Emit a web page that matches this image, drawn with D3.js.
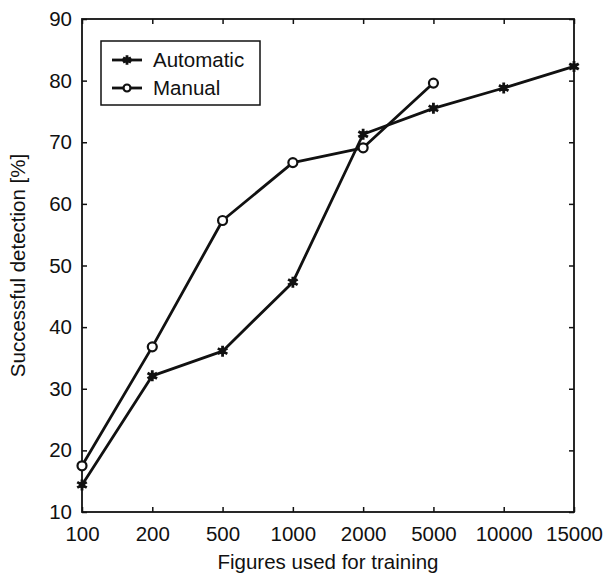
<!DOCTYPE html>
<html>
<head>
<meta charset="utf-8">
<script src="https://cdn.jsdelivr.net/npm/d3@7"></script>
<style>
  html, body { margin: 0; padding: 0; background: #fff; }
  svg { display: block; font-family: "Liberation Sans", Arial, sans-serif; }
</style>
</head>
<body>
<svg id="chart" width="603" height="578"></svg>
<script>
// Training-set sizes (categorical, equally spaced on the x axis)
const categories = ["100", "200", "500", "1000", "2000", "5000", "10000", "15000"];
// Detection rates in percent
const automaticValues = [14.4, 32.1, 36.1, 47.3, 71.3, 75.5, 78.8, 82.3];
const manualValues = [17.5, 36.8, 57.3, 66.7, 69.1, 79.6];
const yTicks = [10, 20, 30, 40, 50, 60, 70, 80, 90];
const seriesNames = ["Automatic", "Manual"];

const svg = d3.select("#chart");
const margin = { left: 82, right: 29, top: 19, bottom: 66 };
const W = 603, H = 578;
const x0 = margin.left, x1 = W - margin.right, y0 = H - margin.bottom, y1 = margin.top;

const x = d3.scalePoint().domain(categories).range([x0, x1]);
const y = d3.scaleLinear().domain([10, 90]).range([y0, y1]);

const fontSize = 20.5;
const ink = "#111";

// Axes with inward ticks
const gLeft = svg.append("g").attr("transform", `translate(${x0},0)`)
  .call(d3.axisLeft(y).tickValues(yTicks).tickSizeInner(-5).tickSizeOuter(0).tickPadding(10));
const gBottom = svg.append("g").attr("transform", `translate(0,${y0})`)
  .call(d3.axisBottom(x).tickSizeInner(-5).tickSizeOuter(0).tickPadding(14));
const gTop = svg.append("g").attr("transform", `translate(0,${y1})`)
  .call(d3.axisTop(x).tickSizeInner(-5).tickSizeOuter(0).tickFormat(""));
const gRight = svg.append("g").attr("transform", `translate(${x1},0)`)
  .call(d3.axisRight(y).tickValues(yTicks).tickSizeInner(-5).tickSizeOuter(0).tickFormat(""));

[gLeft, gBottom, gTop, gRight].forEach(g => {
  g.select(".domain").remove();
  g.selectAll(".tick line").attr("stroke", ink).attr("stroke-width", 1.5);
  g.selectAll(".tick text").attr("fill", ink).style("font-size", fontSize + "px")
    .style("font-family", "'Liberation Sans', Arial, sans-serif");
});

// Plot frame
svg.append("rect")
  .attr("x", x0).attr("y", y1).attr("width", x1 - x0).attr("height", y0 - y1)
  .attr("fill", "none").attr("stroke", ink).attr("stroke-width", 1.8);

// Axis titles
svg.append("text")
  .attr("x", (x0 + x1) / 2).attr("y", 569)
  .attr("text-anchor", "middle").attr("fill", ink)
  .style("font-size", fontSize + "px")
  .text("Figures used for training");
svg.append("text")
  .attr("transform", `translate(25,${(y0 + y1) / 2}) rotate(-90)`)
  .attr("text-anchor", "middle").attr("fill", ink)
  .style("font-size", fontSize + "px")
  .text("Successful detection [%]");

const line = d3.line().x(d => x(d.c)).y(d => y(d.v));
const autoData = automaticValues.map((v, i) => ({ c: categories[i], v }));
const manualData = manualValues.map((v, i) => ({ c: categories[i], v }));

const plot = svg.append("g");
plot.append("path").datum(manualData).attr("d", line)
  .attr("fill", "none").attr("stroke", ink).attr("stroke-width", 2.8).attr("stroke-linejoin", "round");
plot.append("path").datum(autoData).attr("d", line)
  .attr("fill", "none").attr("stroke", ink).attr("stroke-width", 2.8).attr("stroke-linejoin", "round");

// Marker drawers
function starMarker(g, cx, cy, s) {
  g.append("path")
    .attr("transform", `translate(${cx},${cy})`)
    .attr("d", d3.symbol().type(d3.symbolAsterisk).size(s)())
    .attr("fill", "none").attr("stroke", ink).attr("stroke-width", 2.8);
  g.append("path")
    .attr("transform", `translate(${cx},${cy})`)
    .attr("d", d3.symbol().type(d3.symbolSquare).size(s * 0.4)())
    .attr("fill", ink);
}
function circleMarker(g, cx, cy, r) {
  g.append("circle").attr("cx", cx).attr("cy", cy).attr("r", r)
    .attr("fill", "#fff").attr("stroke", ink).attr("stroke-width", 2.2);
}

manualData.forEach(d => circleMarker(plot, x(d.c), y(d.v), 4.5));
autoData.forEach(d => starMarker(plot, x(d.c), y(d.v), 85));

// Legend
const legend = svg.append("g");
legend.append("rect").attr("x", 101).attr("y", 41).attr("width", 159).attr("height", 64)
  .attr("fill", "#fff").attr("stroke", ink).attr("stroke-width", 1.5);
seriesNames.forEach((name, i) => {
  const ly = 60 + i * 28;
  legend.append("line").attr("x1", 112).attr("x2", 142).attr("y1", ly).attr("y2", ly)
    .attr("stroke", ink).attr("stroke-width", 2.8);
  if (i === 0) starMarker(legend, 127, ly, 60);
  else circleMarker(legend, 127, ly, 3.5);
  legend.append("text").attr("x", 153).attr("y", ly).attr("dy", "0.35em")
    .attr("fill", ink).style("font-size", fontSize + "px").text(name);
});
</script>
</body>
</html>
